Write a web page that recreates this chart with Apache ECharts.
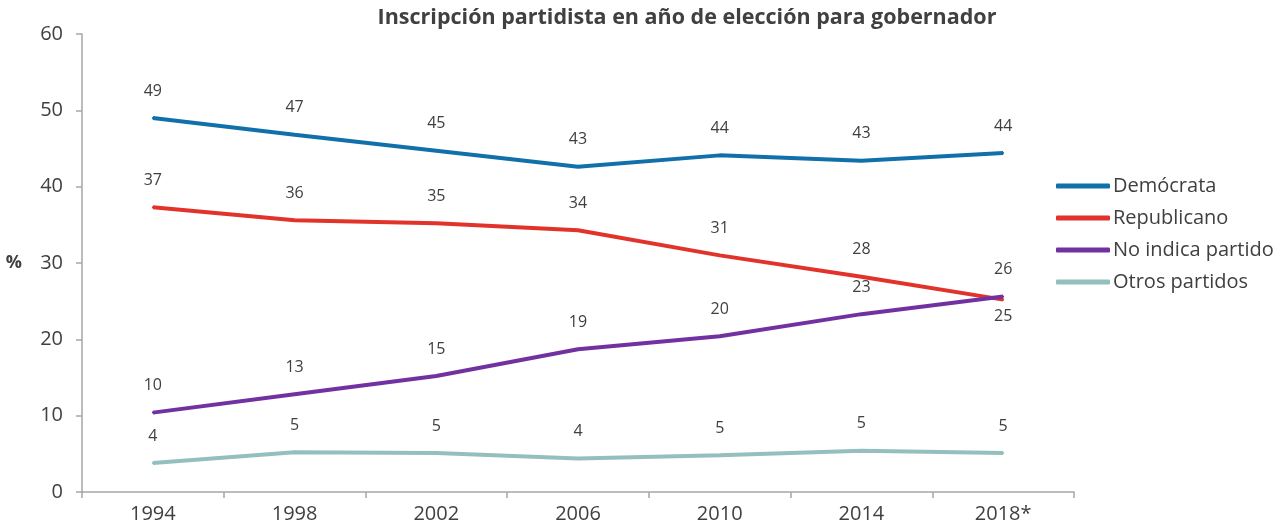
<!DOCTYPE html>
<html>
<head>
<meta charset="utf-8">
<script src="https://cdn.jsdelivr.net/npm/echarts@6/dist/echarts.min.js"></script>
<style>
  html, body { margin: 0; padding: 0; background: #fff; }
  #chart { width: 1283px; height: 531px; }
</style>
</head>
<body>
<div id="chart"></div>
<script>
// años de elección
var years = ['1994', '1998', '2002', '2006', '2010', '2014', '2018*'];
var yTicks = [0, 10, 20, 30, 40, 50, 60];

// porcentajes
var democrata = [49.0, 46.8, 44.7, 42.6, 44.1, 43.4, 44.4];
var republicano = [37.3, 35.6, 35.2, 34.3, 31.0, 28.2, 25.2];
var noIndica = [10.4, 12.8, 15.2, 18.7, 20.4, 23.3, 25.6];
var otros = [3.8, 5.2, 5.1, 4.4, 4.8, 5.4, 5.1];

var names = ['Demócrata', 'Republicano', 'No indica partido', 'Otros partidos'];
var colors = ['#1170aa', '#e2332b', '#7231a1', '#93bfbe'];

var txt = '#404040';
var font = 'Open Sans';

var myChart = echarts.init(document.getElementById('chart'));

function makeSeries(name, values, color, below) {
  return {
    name: name,
    type: 'line',
    symbol: 'circle',
    symbolSize: 2,
    itemStyle: { color: color },
    lineStyle: { color: color, width: 4 },
    animation: false,
    label: {
      show: true,
      position: 'top',
      distance: 18,
      color: txt,
      fontFamily: font,
      fontSize: 16,
      formatter: function (p) { return Math.round(p.value); }
    },
    data: values.map(function (v, i) {
      if (below && i === values.length - 1) {
        return { value: v, label: { position: 'bottom', distance: 8 } };
      }
      return v;
    })
  };
}

var option = {
  title: {
    text: 'Inscripción partidista en año de elección para gobernador',
    left: 682,
    textAlign: 'center',
    top: 2,
    textStyle: { color: txt, fontFamily: font, fontSize: 21.5, fontWeight: 'bold' }
  },
  legend: {
    orient: 'vertical',
    left: 1051,
    top: 169,
    icon: 'roundRect',
    itemWidth: 54,
    itemHeight: 5,
    itemGap: 8,
    textStyle: { color: txt, fontFamily: font, fontSize: 20, lineHeight: 24, padding: [0, 0, 0, -2] },
    data: names
  },
  grid: { left: 82, right: 209, top: 34, bottom: 39, outerBoundsMode: 'none' },
  xAxis: {
    type: 'category',
    data: years,
    boundaryGap: true,
    axisLine: { lineStyle: { color: '#a6a6a6', width: 1.5 } },
    axisTick: { show: true, length: 6, lineStyle: { color: '#a6a6a6', width: 1.5 } },
    axisLabel: { color: txt, fontFamily: font, fontSize: 20, margin: 12 }
  },
  yAxis: {
    type: 'value',
    min: yTicks[0],
    max: yTicks[yTicks.length - 1],
    interval: 10,
    name: '%',
    nameLocation: 'middle',
    nameRotate: 0,
    nameGap: 60,
    nameTextStyle: { color: txt, fontFamily: font, fontSize: 18, fontWeight: 'bold' },
    axisLine: { show: true, lineStyle: { color: '#a6a6a6', width: 1.5 } },
    axisTick: { show: true, length: 6, lineStyle: { color: '#a6a6a6', width: 1.5 } },
    splitLine: { show: false },
    axisLabel: { color: txt, fontFamily: font, fontSize: 20, margin: 19 }
  },
  series: [
    makeSeries(names[0], democrata, colors[0], false),
    makeSeries(names[1], republicano, colors[1], true),
    makeSeries(names[2], noIndica, colors[2], false),
    makeSeries(names[3], otros, colors[3], false)
  ]
};

myChart.setOption(option);
</script>
</body>
</html>
